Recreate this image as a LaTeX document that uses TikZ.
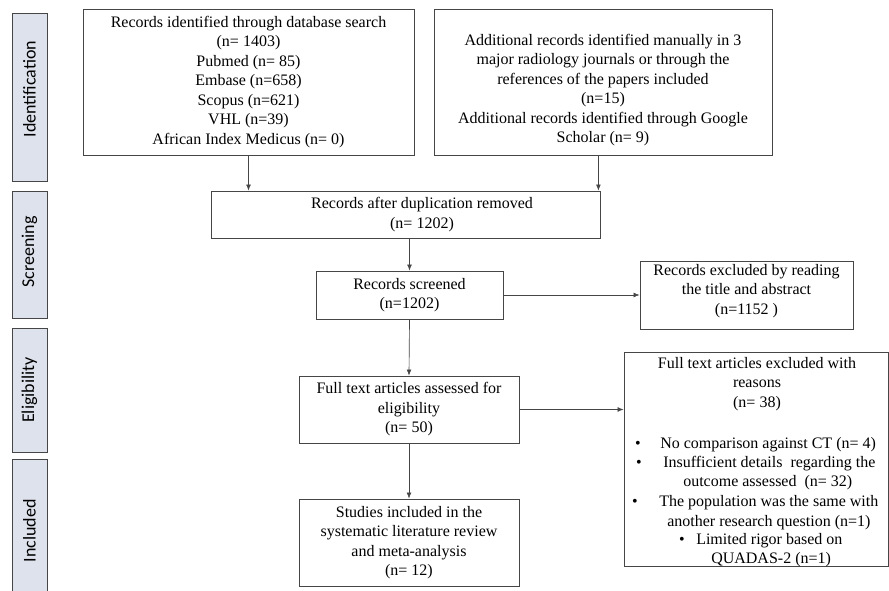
\documentclass[tikz,border=0pt]{standalone}
\usepackage{fontspec}
\setmainfont{Liberation Serif}
\newfontfamily\sidefont{Carlito}
\usetikzlibrary{arrows.meta}
\definecolor{sidefill}{RGB}{222,226,236}
\definecolor{edge}{RGB}{70,70,70}
\begin{document}
\begin{tikzpicture}[x=0.75pt,y=-0.75pt,
  sz/.style 2 args={minimum width=#1*0.75pt, minimum height=#2*0.75pt},
  box/.style={draw=edge, line width=0.6pt, inner sep=0pt, fill=white},
  txt/.style={align=center, font=\fontsize{12}{14.6}\selectfont, inner sep=0pt},
  ltxt/.style={anchor=base west, font=\fontsize{12}{14.6}\selectfont, inner sep=0pt},
  bul/.style={anchor=base, font=\fontsize{12}{14.6}\selectfont, inner sep=0pt},
  side/.style={draw=edge, fill=sidefill, line width=0.6pt, inner sep=0pt},
  sidetxt/.style={rotate=90, font=\sidefont\fontsize{13.5}{16}\selectfont, inner sep=0pt},
  arr/.style={-{Latex[length=4.5pt,width=3.6pt]}, line width=0.5pt, draw=edge}]
\useasboundingbox (0,0) rectangle (889,591);

% side stage labels
\node[side, sz={35}{168}] (s1) at (29.5,97) {};
\node[sidetxt] (s1t) at (29.5,89) {Identification};
\node[side, sz={35}{127}] (s2) at (29.5,254.5) {};
\node[sidetxt] (s2t) at (29.5,252) {Screening};
\node[side, sz={35}{124}] (s3) at (29.5,390) {};
\node[sidetxt] (s3t) at (29.5,390) {Eligibility};
\node[side, sz={35}{150}] (s4) at (29.5,534) {};
\node[sidetxt] (s4t) at (29.5,531) {Included};

% boxes
\node[box, sz={331}{146}] (b1) at (248.5,82) {};
\node[txt] (b1t) at (248.5,82) {Records identified through database search\\(n= 1403)\\Pubmed (n= 85)\\Embase (n=658)\\Scopus (n=621)\\VHL (n=39)\\African Index Medicus (n= 0)};

\node[box, sz={338}{146}] (b2) at (603,82) {};
\node[txt] (b2t) at (603,90) {Additional records identified manually in 3\\major radiology journals or through the\\references of the papers included\\(n=15)\\Additional records identified through Google\\Scholar (n= 9)};

\node[box, sz={389}{47}] (b3) at (405.5,214.5) {};
\node[txt] (b3t) at (422,214.5) {Records after duplication removed\\(n= 1202)};

\node[box, sz={187}{48}] (b4) at (409.5,295) {};
\node[txt] (b4t) at (409.5,295) {Records screened\\(n=1202)};

\node[box, sz={213}{68}] (b5) at (746.5,295) {};
\node[txt] (b5t) at (746.5,291) {Records excluded by reading\\the title and abstract\\(n=1152 )};

\node[box, sz={220}{67}] (b6) at (409,409.5) {};
\node[txt] (b6t) at (409,409.5) {Full text articles assessed for\\eligibility\\(n= 50)};

\node[box, sz={264}{214}] (b7) at (756,459) {};
\node[txt] (b7t) at (757,384) {Full text articles excluded with\\reasons\\(n= 38)};
\node[bul] (u1) at (638,449) {•};
\node[ltxt] (l1) at (660,449) {No comparison against CT (n= 4)};
\node[bul] (u2) at (639,467) {•};
\node[ltxt] (l2) at (663,467) {Insufficient details\ \ regarding the};
\node[ltxt] (l3) at (683,486) {outcome assessed\ \ (n= 32)};
\node[bul] (u3) at (635,506) {•};
\node[ltxt] (l4) at (659,506) {The population was the same with};
\node[ltxt] (l5) at (667,526) {another research question (n=1)};
\node[bul] (u4) at (682,544) {•};
\node[ltxt] (l6) at (696,544) {Limited rigor based on};
\node[ltxt] (l7) at (711,563) {QUADAS-2 (n=1)};

\node[box, sz={220}{87}] (b8) at (409,542.5) {};
\node[txt] (b8t) at (409,542.5) {Studies included in the\\systematic literature review\\and meta-analysis\\(n= 12)};

% connectors
\draw[arr] (b1.south) -- (b1.south |- b3.north);
\draw[arr] ([xshift=-1.5pt]b2.south -| b3.north east) -- ([xshift=-1.5pt]b3.north east);
\draw[arr] (b3.south -| b4.north) -- (b4.north);
\draw[arr] (b4.east) -- (b4.east -| b5.west);
\draw[arr] (b4.south) -- (b6.north);
\draw[arr] (b6.east) -- (b6.east -| b7.west);
\draw[arr] (b6.south) -- (b8.north);
\end{tikzpicture}
\end{document}
